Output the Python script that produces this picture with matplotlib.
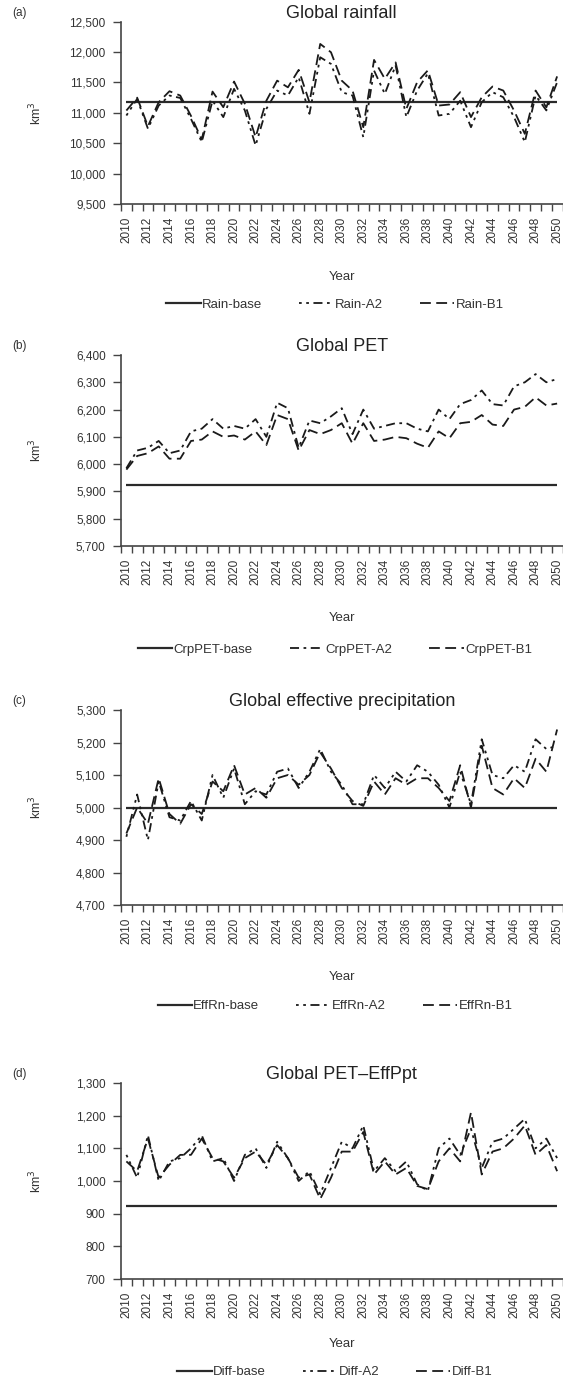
import matplotlib
matplotlib.use("Agg")
import matplotlib.pyplot as plt
from matplotlib.lines import Line2D
import numpy as np

plt.rcParams['font.family'] = ['Liberation Sans', 'DejaVu Sans']

years = list(range(2010, 2051))

# (a) Global rainfall
rain_base = 11175
rain_a2 = [10956, 11230, 10740, 11120, 11285, 11245, 10900, 10520, 11200, 10930,
           11395, 11040, 10463, 11066, 11367, 11285, 11586, 10984, 11915, 11805,
           11340, 11285, 10600, 11696, 11312, 11780, 10930, 11367, 11650, 10956,
           10984, 11200, 10764, 11175, 11340, 11257, 10930, 10518, 11285, 11040,
           11504]
rain_b1 = [11038, 11250, 10780, 11175, 11356, 11285, 10950, 10560, 11350, 11093,
           11515, 11150, 10600, 11200, 11530, 11420, 11707, 11175, 12134, 11997,
           11530, 11367, 10764, 11871, 11560, 11830, 11066, 11504, 11700, 11120,
           11137, 11340, 10930, 11257, 11433, 11367, 11038, 10655, 11367, 11090,
           11600]

# (b) Global PET
pet_base = 5925
pet_a2 = [5985, 6050, 6060, 6085, 6040, 6050, 6120, 6130, 6165, 6130,
          6140, 6130, 6165, 6100, 6225, 6205, 6060, 6160, 6150, 6175,
          6205, 6110, 6200, 6130, 6140, 6150, 6150, 6130, 6120, 6200,
          6165, 6220, 6235, 6270, 6220, 6215, 6285, 6300, 6330, 6300,
          6312]
pet_b1 = [5980, 6030, 6040, 6065, 6020, 6020, 6085, 6090, 6120, 6100,
          6105, 6090, 6120, 6070, 6180, 6165, 6050, 6125, 6110, 6125,
          6150, 6075, 6150, 6085, 6090, 6100, 6095, 6075, 6060, 6120,
          6095, 6150, 6155, 6180, 6145, 6140, 6200, 6210, 6245, 6215,
          6222]

# (c) Global effective precipitation
eff_base = 5000
eff_a2 = [4910, 5040, 4900, 5080, 4970, 4960, 5020, 4960, 5100, 5030,
          5120, 5010, 5050, 5040, 5110, 5120, 5060, 5110, 5180, 5110,
          5070, 5010, 5010, 5100, 5060, 5110, 5080, 5130, 5110, 5070,
          5000, 5110, 5010, 5210, 5100, 5090, 5130, 5110, 5210, 5180,
          5190]
eff_b1 = [4920, 5000, 4950, 5090, 4980, 4950, 5010, 4980, 5080, 5050,
          5130, 5040, 5060, 5030, 5090, 5100, 5070, 5100, 5170, 5120,
          5060, 5020, 5005, 5080, 5040, 5090, 5070, 5090, 5090, 5060,
          5020, 5130, 5000, 5190, 5060, 5040, 5090, 5060, 5150, 5110,
          5240]

# (d) Global PET-EffPpt
diff_base = 925
diff_a2 = [1080, 1010, 1140, 1000, 1060, 1070, 1100, 1140, 1060, 1070,
           1000, 1080, 1100, 1040, 1120, 1070, 1000, 1030, 960, 1040,
           1120, 1100, 1170, 1030, 1070, 1030, 1060, 990, 970, 1100,
           1130, 1080, 1160, 1040, 1120, 1130, 1160, 1190, 1100, 1130,
           1070]
diff_b1 = [1060, 1030, 1130, 1010, 1050, 1080, 1080, 1130, 1070, 1060,
           1010, 1070, 1090, 1050, 1110, 1070, 1010, 1020, 945, 1010,
           1090, 1090, 1150, 1020, 1060, 1020, 1040, 985, 975, 1060,
           1100, 1060, 1210, 1020, 1090, 1100, 1130, 1170, 1080, 1110,
           1030]

panels = [
    dict(letter='(a)', title='Global rainfall', base=rain_base, a2=rain_a2, b1=rain_b1,
         names=['Rain-base', 'Rain-A2', 'Rain-B1'], ylim=(9500, 12500), step=500,
         top=21.7, bottom=204, year_off=73, leg_off=101,
         a2dash=(1.5, 2.5, 1.5, 2.5, 5, 2.5)),
    dict(letter='(b)', title='Global PET', base=pet_base, a2=pet_a2, b1=pet_b1,
         names=['CrpPET-base', 'CrpPET-A2', 'CrpPET-B1'], ylim=(5700, 6400), step=100,
         top=355, bottom=546, year_off=72, leg_off=104,
         a2dash=(5, 2.5, 1.5, 2.5)),
    dict(letter='(c)', title='Global effective precipitation', base=eff_base, a2=eff_a2, b1=eff_b1,
         names=['EffRn-base', 'EffRn-A2', 'EffRn-B1'], ylim=(4700, 5300), step=100,
         top=710, bottom=905, year_off=72, leg_off=101,
         a2dash=(1.5, 2.5, 1.5, 2.5, 5, 2.5)),
    dict(letter='(d)', title='Global PET\u2013EffPpt', base=diff_base, a2=diff_a2, b1=diff_b1,
         names=['Diff-base', 'Diff-A2', 'Diff-B1'], ylim=(700, 1300), step=100,
         top=1083, bottom=1279, year_off=65, leg_off=93,
         a2dash=(1.5, 2.5, 1.5, 2.5, 5, 2.5)),
]

W, H = 563, 1380
fig = plt.figure(figsize=(W / 100, H / 100), dpi=100)
left_px, right_px = 121, 562.5
lc = '#1a1a1a'
ac = '#444444'
tc = '#333333'

for p in panels:
    h_px = p['bottom'] - p['top']
    w_px = right_px - left_px
    ax = fig.add_axes([left_px / W, 1 - p['bottom'] / H, w_px / W, h_px / H])
    ax.plot(years, [p['base']] * len(years), color='#2a2a2a', lw=1.6, solid_capstyle='butt')
    ax.plot(years, p['a2'], color=lc, lw=1.3, dashes=p['a2dash'])
    ax.plot(years, p['b1'], color=lc, lw=1.3, dashes=(6, 3))
    ax.set_xlim(2009.5, 2050.5)
    ax.set_ylim(*p['ylim'])
    yt = np.arange(p['ylim'][0], p['ylim'][1] + 1, p['step'])
    ax.set_yticks(yt)
    ax.set_yticklabels([f'{int(v):,}' for v in yt], fontsize=8.5, color=tc)
    # tick marks at category boundaries, labels at even years
    ax.set_xticks(np.arange(2009.5, 2051, 1.0), minor=True)
    ax.set_xticks(years[::2])
    ax.set_xticklabels([str(y) for y in years[::2]], rotation=90, fontsize=8.5, color=tc)
    ax.tick_params(axis='x', which='major', length=0, pad=9)
    ax.tick_params(axis='x', which='minor', length=5, width=1, color=ac, direction='out')
    ax.tick_params(axis='y', length=6, width=1, color=ac, direction='out', pad=5)
    for s in ['top', 'right']:
        ax.spines[s].set_visible(False)
    for s in ['left', 'bottom']:
        ax.spines[s].set_color(ac)
        ax.spines[s].set_linewidth(1.2)
    ax.set_title(p['title'], fontsize=13, color='#222222', pad=3)
    ax.set_xlabel('Year', fontsize=9.5, color=tc)
    ax.xaxis.set_label_coords(0.5, -(p['year_off'] - 6) / h_px)
    ax.set_ylabel('km$^3$', fontsize=9, color=tc)
    ax.yaxis.set_label_coords(-(left_px - 44) / w_px, 0.5)
    handles = [
        Line2D([], [], color='#2a2a2a', lw=1.6),
        Line2D([], [], color=lc, lw=1.3, dashes=p['a2dash']),
        Line2D([], [], color=lc, lw=1.3, dashes=(6, 3)),
    ]
    leg = ax.legend(handles, p['names'], loc='center', ncol=3, frameon=False,
                    bbox_to_anchor=((335 - left_px) / w_px, -p['leg_off'] / h_px),
                    fontsize=9.5, handlelength=2.6, handletextpad=0.1, columnspacing=2.8)
    for t in leg.get_texts():
        t.set_color(tc)
    fig.text(12 / W, 1 - (p['top'] - 9) / H, p['letter'], fontsize=8.5, color=tc,
             ha='left', va='center')

fig.savefig('out.png', dpi=100)
